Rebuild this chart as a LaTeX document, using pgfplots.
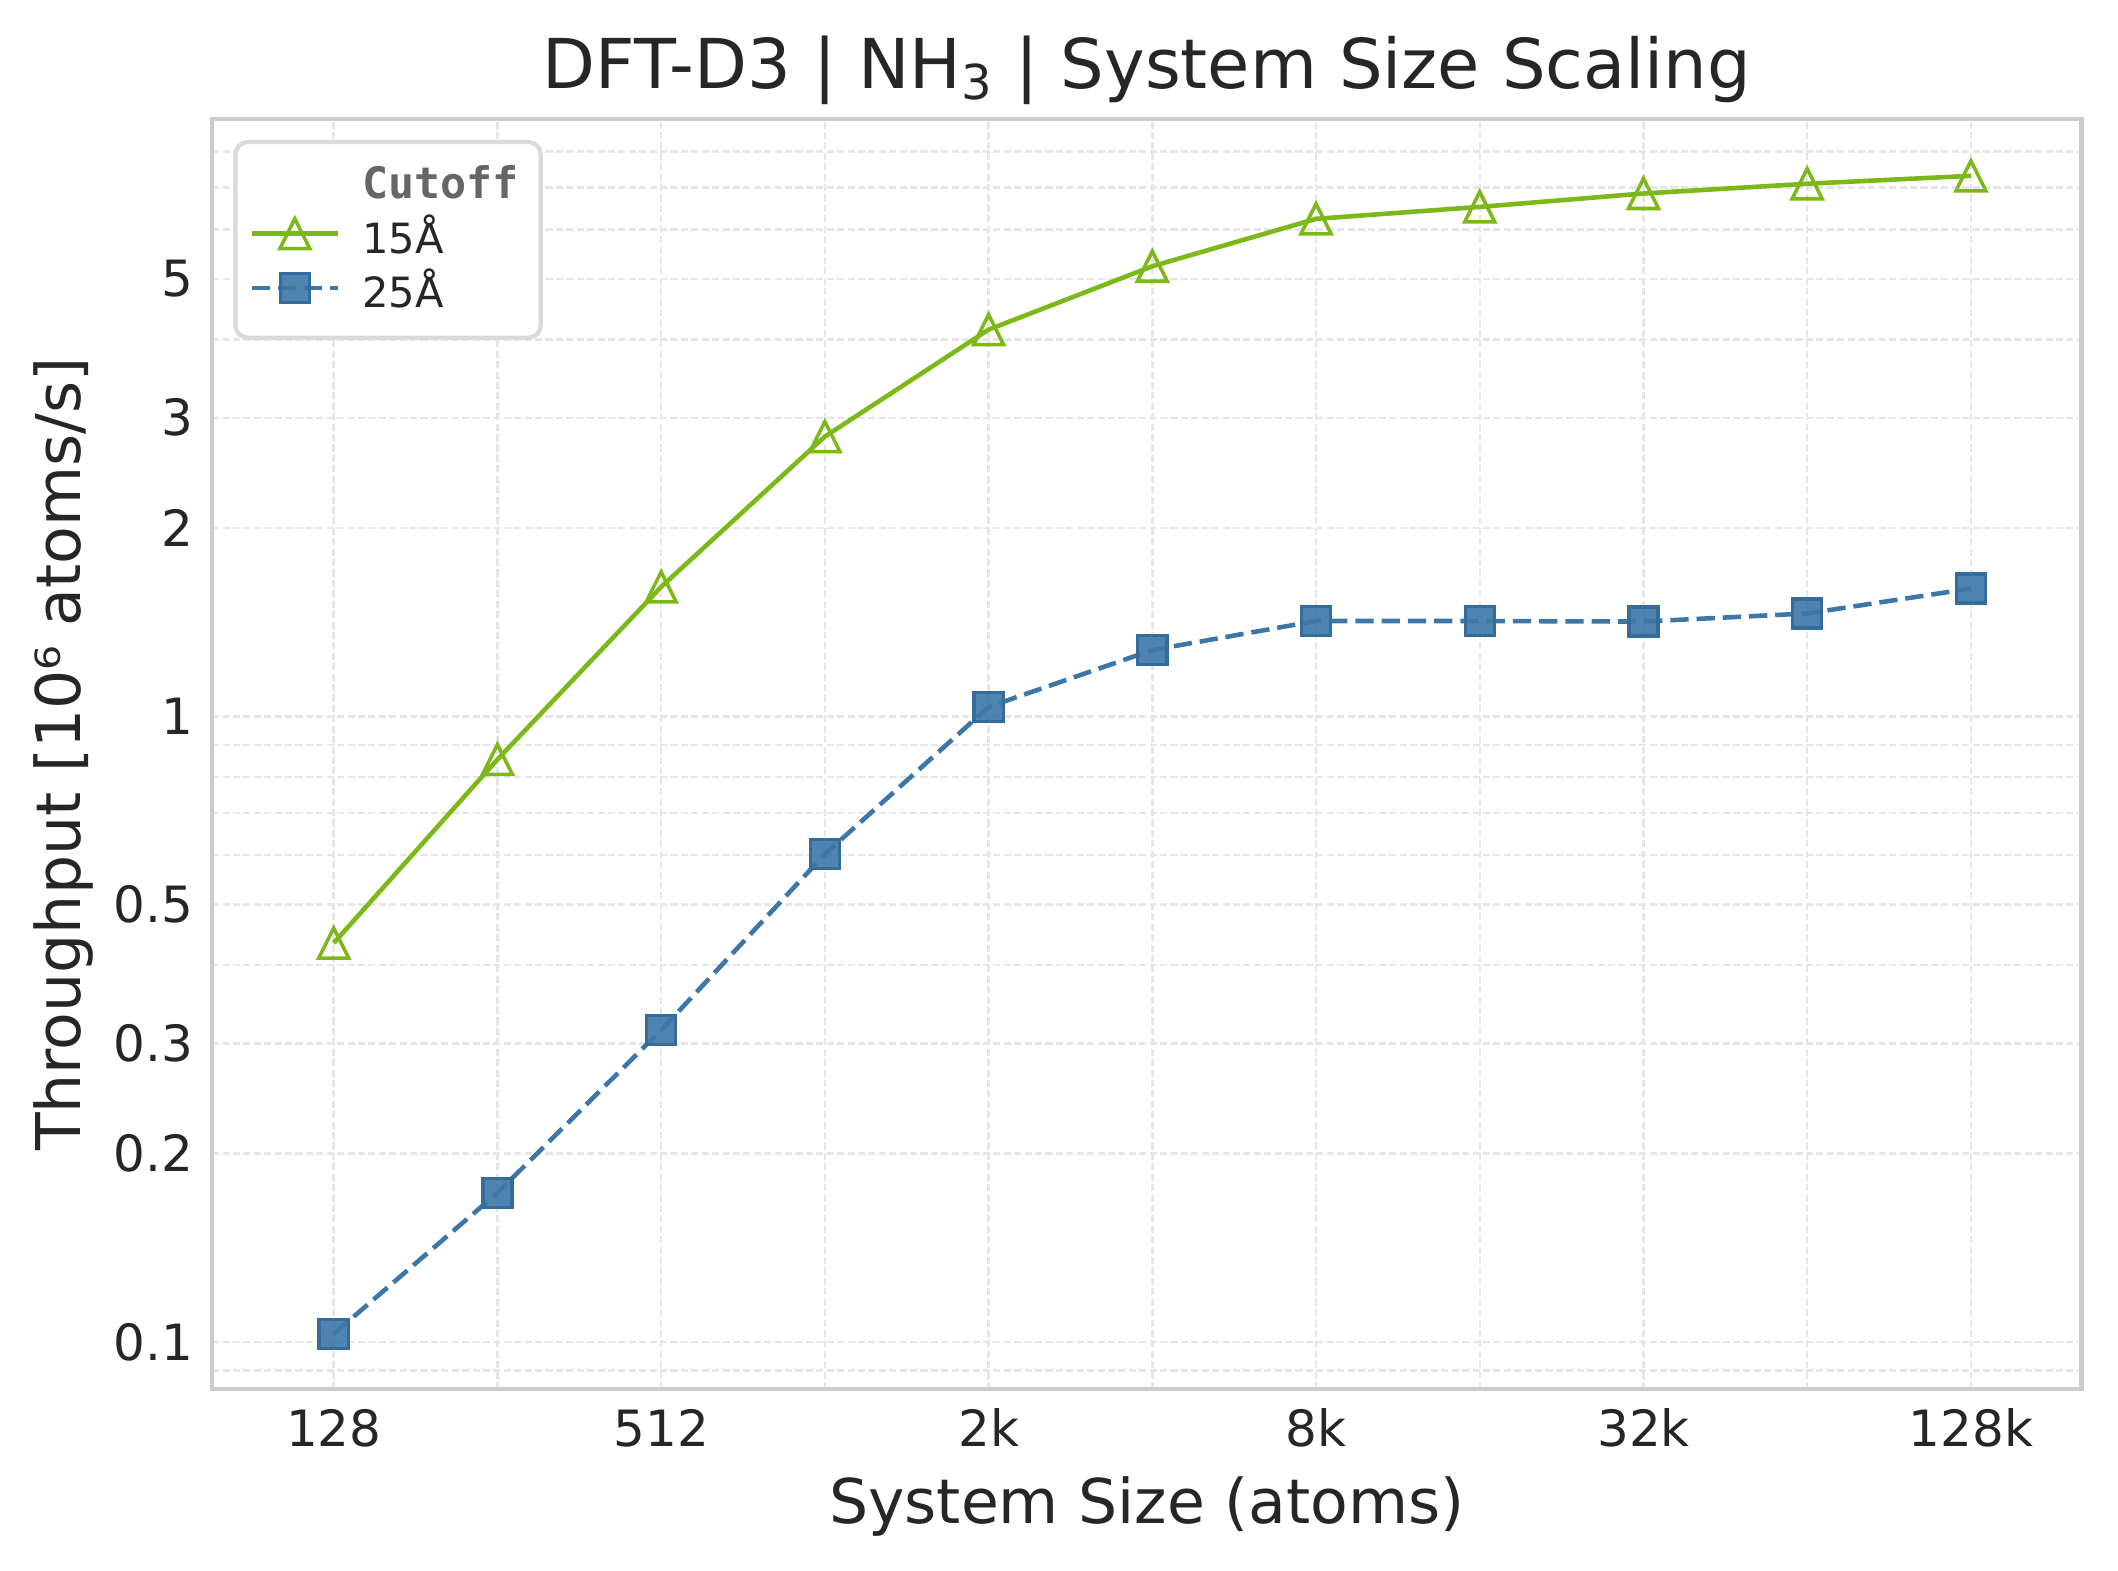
\documentclass[border=0pt]{standalone}
\usepackage{fontspec}
\setmainfont{DejaVu Sans}
\setmonofont{DejaVu Sans Mono}
\usepackage{pgfplots}
\pgfplotsset{compat=1.18}
\definecolor{cgreen}{RGB}{124,185,24}
\definecolor{cblue}{RGB}{60,119,167}
\definecolor{cblueedge}{RGB}{52,108,155}
\definecolor{gridc}{RGB}{230,230,230}
\definecolor{framec}{RGB}{204,204,204}
\definecolor{txt}{RGB}{38,38,38}
\definecolor{legc}{RGB}{218,218,218}
\definecolor{ttl}{RGB}{102,102,102}
\pgfdeclareplotmark{mtri}{%
  \pgfpathmoveto{\pgfqpoint{0pt}{\pgfplotmarksize}}%
  \pgfpathlineto{\pgfqpoint{-\pgfplotmarksize}{-\pgfplotmarksize}}%
  \pgfpathlineto{\pgfqpoint{\pgfplotmarksize}{-\pgfplotmarksize}}%
  \pgfpathclose\pgfusepathqstroke}
\begin{document}
\begin{tikzpicture}
\begin{axis}[
  name=ax, scale only axis, width=448.7pt, height=304.8pt,
  ymode=log, xmin=-0.743, xmax=10.677, ymin=0.08403, ymax=9.01,
  xtick={0,2,4,6,8,10}, xticklabels={128,512,2k,8k,32k,128k},
  minor xtick={1,3,5,7,9},
  ytick={0.1,0.2,0.3,0.5,1,2,3,5}, yticklabels={0.1,0.2,0.3,0.5,1,2,3,5},
  minor ytick={0.09,0.4,0.6,0.7,0.8,0.9,4,6,7,8,9},
  grid=both,
  major grid style={draw=gridc, line width=0.6pt, dash pattern=on 1.7pt off 0.8pt},
  minor grid style={draw=gridc, line width=0.6pt, dash pattern=on 1.7pt off 0.8pt},
  major tick length=0pt, minor tick length=0pt,
  axis line style={draw=framec, line width=1.1pt},
  tick label style={font=\fontsize{12}{14}\selectfont, text=txt},
  xticklabel style={anchor=base, yshift=-13.85pt},
  yticklabel style={anchor=east, inner sep=0pt, xshift=-4.3pt},
  xlabel={System Size (atoms)},
  ylabel={Throughput [10⁶ atoms/s]},
  xlabel style={font=\fontsize{14.8}{17}\selectfont, text=txt, at={(axis description cs:0.5,-0.1057)}, anchor=base},
  ylabel style={font=\fontsize{14.8}{17}\selectfont, text=txt, at={(axis description cs:-0.0706,0.5)}, anchor=base},
  title={DFT-D3 | NH\textsubscript{3} | System Size Scaling},
  title style={font=\fontsize{16.5}{20}\selectfont, text=txt, at={(axis description cs:0.5,1.0045)}, anchor=base},
  legend style={at={(axis description cs:0.0114,0.9835)}, anchor=north west,
    draw=legc, line width=1pt, rounded corners=3pt, fill=white,
    font=\fontsize{10}{12}\selectfont, text=txt,
    inner xsep=3.3pt, inner ysep=3.7pt, row sep=-1.7pt, column sep=3.2pt},
  legend cell align=left,
  legend image code/.code={\draw[mark repeat=2,mark phase=2] plot coordinates {(0pt,0pt)(10.4pt,0pt)(20.8pt,0pt)};},
  legend image post style={yshift=0.8pt},
]
\addlegendimage{empty legend}
\addlegendentry{\fontsize{10.4}{12}\selectfont\ttfamily\bfseries\color{ttl}Cutoff}
\addplot[cgreen, line width=1.1pt, mark=mtri, mark size=3.6pt,
  mark options={solid, line width=0.85pt}]
  coordinates {(0,0.434) (1,0.853) (2,1.61) (3,2.80) (4,4.15) (5,5.24) (6,6.24) (7,6.52) (8,6.85) (9,7.10) (10,7.31)};
\addlegendentry{15Å}
\addplot[cblue, line width=1.1pt, dash pattern=on 4.4pt off 1.9pt, mark=square*, mark size=3.5pt,
  mark options={solid, fill=cblue, fill opacity=0.9, draw=cblueedge, line width=0.8pt}]
  coordinates {(0,0.103) (1,0.173) (2,0.315) (3,0.602) (4,1.035) (5,1.276) (6,1.42) (7,1.42) (8,1.417) (9,1.46) (10,1.60)};
\addlegendentry{25Å}
\end{axis}
\pgfresetboundingbox
\path ([shift={(-50.9pt,-43.44pt)}]ax.south west) rectangle ([shift={(8.7pt,28.56pt)}]ax.north east);
\end{tikzpicture}
\end{document}
